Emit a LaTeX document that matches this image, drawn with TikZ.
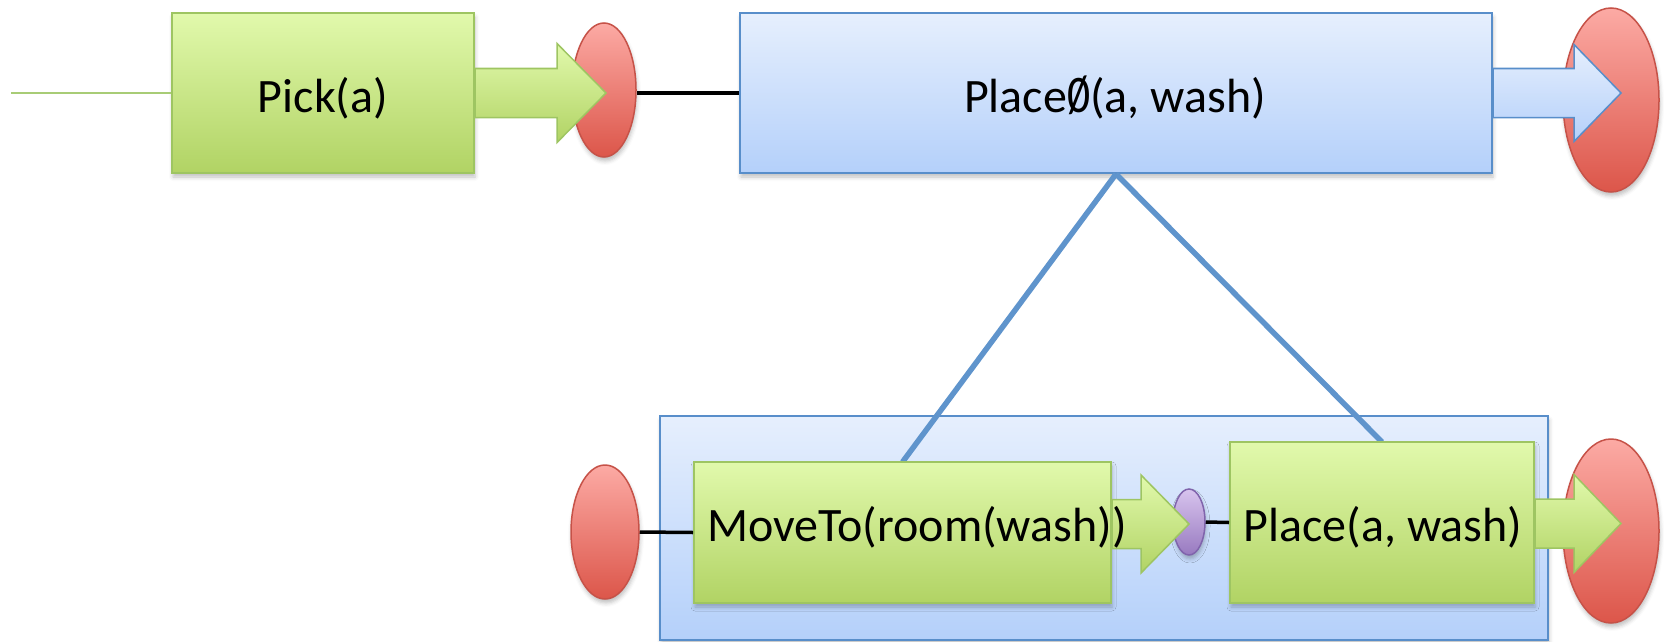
\documentclass[tikz,border=0pt]{standalone}
\usepackage{fontspec}
\setmainfont{Carlito}
\usetikzlibrary{calc,shapes.geometric,shadows.blur}

\definecolor{greenTop}{RGB}{225,249,172}
\definecolor{greenBot}{RGB}{177,211,100}
\definecolor{greenEdge}{RGB}{158,197,98}
\definecolor{blueTop}{RGB}{230,239,253}
\definecolor{blueBot}{RGB}{180,208,250}
\definecolor{blueEdge}{RGB}{88,142,202}
\definecolor{redTop}{RGB}{252,170,164}
\definecolor{redBot}{RGB}{220,86,74}
\definecolor{redEdge}{RGB}{198,82,72}
\definecolor{purpTop}{RGB}{216,196,238}
\definecolor{purpBot}{RGB}{152,122,192}
\definecolor{purpEdge}{RGB}{128,100,172}
\definecolor{stemGreen}{RGB}{168,204,118}
\definecolor{treeBlue}{RGB}{95,148,204}

% slashed zero used in the abstract action name
\newcommand\nullsym{\scalebox{0.95}[1.1]{\ooalign{0\cr\hidewidth/\hidewidth\cr}}}

\tikzset{
  soft/.style={blur shadow={shadow xshift=1pt, shadow yshift=-4pt,
      shadow blur radius=4pt, shadow opacity=25}},
  greenbox/.style={rectangle, draw=greenEdge, line width=2pt,
      top color=greenTop, bottom color=greenBot, inner sep=0pt, soft},
  bluebox/.style={rectangle, draw=blueEdge, line width=2pt,
      top color=blueTop, bottom color=blueBot, inner sep=0pt, soft},
  redoval/.style={ellipse, draw=redEdge, line width=1.5pt,
      top color=redTop, bottom color=redBot, inner sep=0pt, soft},
  purpoval/.style={ellipse, draw=purpEdge, line width=1.5pt,
      top color=purpTop, bottom color=purpBot, inner sep=0pt, soft},
  garrow/.style={draw=greenEdge, line width=1.5pt, line join=miter,
      top color=greenTop, bottom color=greenBot},
  barrow/.style={draw=blueEdge, line width=1.5pt, line join=miter,
      top color=blueTop, bottom color=blueBot},
  treeline/.style={draw=treeBlue, line width=5.5pt},
  link/.style={draw=black, line width=3.5pt},
  stem/.style={draw=stemGreen, line width=2.5pt},
  lbl/.style={anchor=base, inner sep=0pt, font=\fontsize{48}{58}\selectfont},
}

\begin{document}
\begin{tikzpicture}[x=1pt,y=-1pt]
  \useasboundingbox (0,0) rectangle (1664,642);

  % expansion frame of the abstract step
  \node[bluebox, minimum width=888, minimum height=224] (frame) at (1104,528) {};

  % top level plan
  \coordinate (start) at (11,93);
  \node[greenbox, minimum width=302, minimum height=160] (pick) at (323,93) {};
  \node[bluebox, minimum width=752, minimum height=160] (p0) at (1116,93) {};
  \node[redoval, minimum width=64, minimum height=134] (e1) at (604,90) {};
  \node[redoval, minimum width=96, minimum height=184] (e2) at (1611,100) {};

  % refinement links
  \draw[treeline] (p0.south) -- (902.5,462);
  \draw[treeline] (p0.south) -- (1382,442);

  % refined plan
  \node[redoval, minimum width=68, minimum height=134] (e3) at (605,532) {};
  \node[redoval, minimum width=96, minimum height=184] (e4) at (1611,531) {};
  \node[greenbox, minimum width=417, minimum height=141] (mv) at (902.5,532.5) {};
  \node[greenbox, minimum width=304, minimum height=161] (pl) at (1382,522.5) {};
  \node[purpoval, minimum width=32, minimum height=66] (pu) at (1189,522) {};

  % plain connections
  \draw[stem] (start) -- (pick.west);
  \draw[link] (e1.east |- p0.west) -- (p0.west);
  \draw[link] (e3.east) -- (mv.west);
  \draw[link] (pu.east) -- (pl.west);

  % block arrows
  \draw[garrow] ($(pick.east)+(0,-24.5)$) -- ++(82,0) -- ++(0,-25)
      -- ++(49,49.5) -- ++(-49,49.5) -- ++(0,-25) -- ++(-82,0) -- cycle;
  \draw[barrow] ($(p0.east)+(0,-24.5)$) -- ++(81,0) -- ++(0,-24)
      -- ++(47,48.5) -- ++(-47,48.5) -- ++(0,-24) -- ++(-81,0) -- cycle;
  \draw[garrow] ($(mv.east)+(0,-33)$) -- ++(29,0) -- ++(0,-24.5)
      -- ++(48,49) -- ++(-48,49) -- ++(0,-24.5) -- ++(-29,0) -- cycle;
  \draw[garrow] ($(pl.east)+(0,-23.5)$) -- ++(39,0) -- ++(0,-24.5)
      -- ++(47,49) -- ++(-47,49) -- ++(0,-24.5) -- ++(-39,0) -- cycle;

  % labels
  \node[lbl] (pickt) at (323,112) {Pick(a)};
  \node[lbl] (p0t) at (1115,112) {Place\nullsym(a, wash)};
  \node[lbl] (mvt) at (917,541) {MoveTo(room(wash))};
  \node[lbl] (plt) at (1383,541) {Place(a, wash)};
\end{tikzpicture}
\end{document}
